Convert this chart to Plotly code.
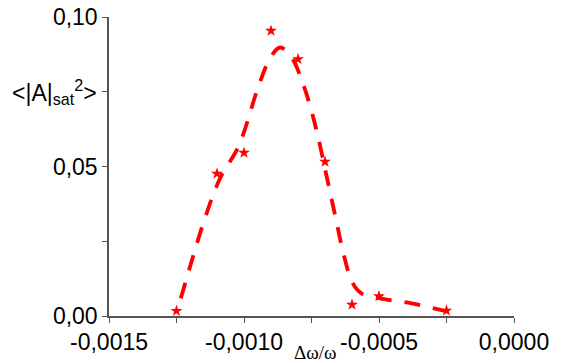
import plotly.graph_objects as go

# measured data (stars)
delta_omega = [-0.00125, -0.0011, -0.0010, -0.0009, -0.0008, -0.0007, -0.0006, -0.0005, -0.00025]
a_sat = [0.0017, 0.0476, 0.0546, 0.0954, 0.0859, 0.0516, 0.0038, 0.0066, 0.0018]

# fitted curve (dashed)
fit_x = [-0.001234, -0.001193, -0.001145, -0.001089, -0.001019, -0.000949, -0.000904,
         -0.000867, -0.000826, -0.000778, -0.000733, -0.000697, -0.00066, -0.000627,
         -0.000597, -0.000564, -0.000486, -0.000379, -0.000249]
fit_y = [0.0059, 0.0186, 0.0326, 0.0460, 0.0570, 0.0761, 0.0861,
         0.0898, 0.0868, 0.0768, 0.0627, 0.0480, 0.0326, 0.0192,
         0.0109, 0.0075, 0.0057, 0.0042, 0.0015]

x_tickvals = [-0.0015, -0.0010, -0.0005, 0.0]
x_ticktext = ["-0,0015", "-0,0010", "-0,0005", "0,0000"]
y_tickvals = [0.0, 0.05, 0.10]
y_ticktext = ["0,00", "0,05", "0,10"]

fig = go.Figure()
fig.add_trace(go.Scatter(
    x=fit_x, y=fit_y, mode="lines",
    line=dict(color="#FF0000", width=3.8, dash="16px,13px", shape="spline", smoothing=1.0),
    hoverinfo="skip", showlegend=False))
fig.add_trace(go.Scatter(
    x=delta_omega, y=a_sat, mode="markers",
    marker=dict(symbol="star", size=9, color="#FF0000", line=dict(width=0)),
    showlegend=False))

axis_col = "#555555"
tick_font = dict(family="Liberation Sans, Arial, sans-serif", size=23, color="#000000")

fig.update_layout(
    width=561, height=363,
    margin=dict(l=109, r=47, t=17, b=47),
    paper_bgcolor="white", plot_bgcolor="white",
    font=tick_font,
    xaxis=dict(
        range=[-0.0015, 0.0], showgrid=False, zeroline=False, automargin=False,
        showline=True, linecolor=axis_col, linewidth=1.5,
        tickmode="array", tickvals=x_tickvals, ticktext=x_ticktext,
        ticks="outside", ticklen=5, tickwidth=1.2, tickcolor=axis_col,
        minor=dict(tickmode="linear", tick0=-0.0015, dtick=0.00025, ticks="outside",
                   ticklen=5, tickwidth=1.2, tickcolor=axis_col, showgrid=False),
        tickfont=tick_font,
    ),
    yaxis=dict(
        range=[0.0, 0.1], showgrid=False, zeroline=False, automargin=False,
        showline=True, linecolor=axis_col, linewidth=1.5,
        tickmode="array", tickvals=y_tickvals, ticktext=y_ticktext,
        ticks="outside", ticklen=5, tickwidth=1.2, tickcolor=axis_col,
        minor=dict(tickmode="linear", tick0=0, dtick=0.025, ticks="outside",
                   ticklen=5, tickwidth=1.2, tickcolor=axis_col, showgrid=False),
        tickfont=tick_font,
    ),
    annotations=[
        dict(
            text="&lt;|A|<sub>sat</sub><sup>2</sup>&gt;",
            xref="paper", yref="y", x=-0.025, y=0.075,
            xanchor="right", yanchor="middle", showarrow=False,
            font=dict(family="Liberation Sans, Arial, sans-serif", size=23, color="#000000"),
        ),
        dict(
            text="Δω/ω",
            xref="paper", yref="paper", x=0.51, y=0, yshift=-36,
            xanchor="center", yanchor="middle", showarrow=False,
            font=dict(family="Liberation Serif, Times New Roman, serif", size=19, color="#000000"),
        ),
    ],
)

# remove the default page margin so the figure sits at the window's top-left corner
fig.write_html("out.html", config={"displayModeBar": False},
               post_script="document.body.style.margin='0';")
